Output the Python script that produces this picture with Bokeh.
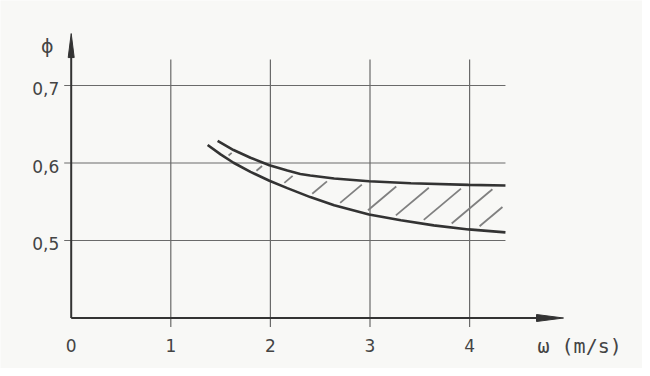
import numpy as np
from bokeh.plotting import figure
from bokeh.models import Range1d
from bokeh.core.properties import value
from bokeh.embed import file_html
from bokeh.resources import INLINE

# ---- data ----
x_ticks = [0, 1, 2, 3, 4]
x_tick_labels = ["0", "1", "2", "3", "4"]
y_ticks = [0.5, 0.6, 0.7]
y_tick_labels = ["0,5", "0,6", "0,7"]

upper_w = [1.47, 1.63, 1.80, 1.99, 2.17, 2.30, 2.40, 2.64, 2.99, 3.41, 3.99, 4.36]
upper_phi = [0.6285, 0.6167, 0.6068, 0.5971, 0.5902, 0.5859, 0.5838, 0.5800, 0.5765,
             0.5738, 0.5718, 0.5710]
lower_w = [1.37, 1.50, 1.63, 1.80, 1.99, 2.17, 2.40, 2.64, 2.99, 3.31, 3.64, 3.99, 4.36]
lower_phi = [0.6233, 0.6111, 0.6003, 0.5885, 0.5771, 0.5676, 0.5560, 0.5455, 0.5336,
             0.5261, 0.5195, 0.5143, 0.5105]

x_label = "ω (m/s)"
y_label = "ϕ"

# ---- layout constants ----
PX_X = 99.6   # pixels per unit of w
PX_Y = 775.0  # pixels per unit of phi
W, H = 642, 368
ORIGIN_PX = 70.7       # pixel column of w = 0
Y07_PX = 85.0          # pixel row of phi = 0.7
X0, X1 = -ORIGIN_PX / PX_X, (W - ORIGIN_PX) / PX_X
Y1, Y0 = 0.7 + Y07_PX / PX_Y, 0.7 - (H - Y07_PX) / PX_Y
Y_AX = 0.4
X_ARROW = 4.943
Y_ARROW = 0.767
GRID_X_END = 4.36

FONT = value("DejaVu Sans")
INK = "#333333"
GRID = "#6a6a6a"
TXT = "#444444"
BG = "#f8f8f6"

p = figure(width=W, height=H, output_backend="svg", toolbar_location=None,
           x_range=Range1d(X0, X1), y_range=Range1d(Y0, Y1),
           min_border=0, background_fill_color=BG, border_fill_color=BG)
p.axis.visible = False
p.grid.visible = False
p.outline_line_color = None

# grid lines
p.segment(x0=[-7 / PX_X] * len(y_ticks), x1=[GRID_X_END] * len(y_ticks),
          y0=y_ticks, y1=y_ticks, line_color=GRID, line_width=1.2)
p.segment(x0=x_ticks[1:], x1=x_ticks[1:], y0=[Y_AX - 9 / PX_Y] * 4,
          y1=[0.7 + 26 / PX_Y] * 4, line_color=GRID, line_width=1.2)

# axes
p.segment(x0=[0], x1=[0], y0=[Y_AX], y1=[Y_ARROW - 20 / PX_Y], line_color=INK, line_width=2)
p.segment(x0=[0], x1=[X_ARROW - 20 / PX_X], y0=[Y_AX], y1=[Y_AX], line_color=INK, line_width=2)
# arrow heads (narrow, long)
p.patch(x=[0, -3 / PX_X, 3 / PX_X], y=[Y_ARROW, Y_ARROW - 24 / PX_Y, Y_ARROW - 24 / PX_Y],
        color=INK)
p.patch(x=[X_ARROW, X_ARROW - 27 / PX_X, X_ARROW - 27 / PX_X],
        y=[Y_AX, Y_AX + 3.5 / PX_Y, Y_AX - 3.5 / PX_Y], color=INK)

# hatching between the curves
ux, uy = np.array(upper_w), np.array(upper_phi)
lx, ly = np.array(lower_w), np.array(lower_phi)
slope = 0.84 * PX_X / PX_Y  # ~40 degrees in pixels
gap = 4 / PX_Y
hx0, hx1, hy0, hy1 = [], [], [], []
for s in np.arange(1.58, 4.36, 0.28):
    ys = np.interp(s, lx, ly) + gap
    xs = np.linspace(s, GRID_X_END, 800)
    line_y = ys + slope * (xs - s)
    top = np.interp(xs, ux, uy) - gap
    hit = np.where(line_y >= top)[0]
    e = xs[hit[0]] if len(hit) else GRID_X_END - 0.03
    if e - s < 0.02:
        continue
    hx0.append(s); hy0.append(ys)
    hx1.append(e); hy1.append(ys + slope * (e - s))
p.segment(x0=hx0, y0=hy0, x1=hx1, y1=hy1, line_color="#808080", line_width=1.8)

# curves
p.line(upper_w, upper_phi, line_color=INK, line_width=2.6)
p.line(lower_w, lower_phi, line_color=INK, line_width=2.6)

# tick labels
p.text(x=[-12 / PX_X] * len(y_ticks), y=y_ticks, text=y_tick_labels,
       text_align="right", text_baseline="middle", y_offset=3,
       text_font=FONT, text_font_size="17px", text_color=TXT)
p.text(x=x_ticks, y=[0.7 - 260 / PX_Y] * len(x_ticks), text=x_tick_labels,
       text_align="center", text_baseline="middle",
       text_font=FONT, text_font_size="17px", text_color=TXT)
p.text(x=[(537 - ORIGIN_PX) / PX_X], y=[0.7 - 260 / PX_Y], text=[x_label],
       text_align="left", text_baseline="middle",
       text_font=value("DejaVu Sans Mono"), text_font_size="20px", text_color=TXT)
p.text(x=[-24 / PX_X], y=[0.7 + 40 / PX_Y], text=[y_label],
       text_align="center", text_baseline="middle",
       text_font=FONT, text_font_size="19px", text_color=TXT)

open("out.html", "w").write(file_html(p, INLINE))
